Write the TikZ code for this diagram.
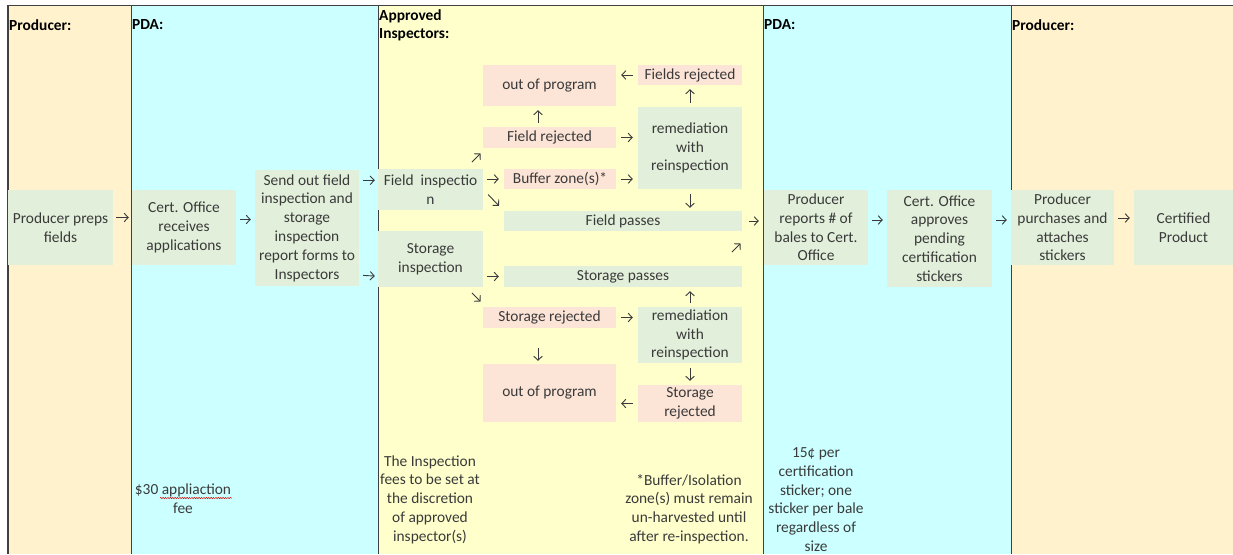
\documentclass[tikz,border=0pt]{standalone}
\usepackage{fontspec}
\setmainfont{Carlito}
\usetikzlibrary{arrows.meta,decorations.pathmorphing}

\definecolor{prodlane}{HTML}{FFF2CC}
\definecolor{pdalane}{HTML}{CCFFFF}
\definecolor{insplane}{HTML}{FFFFCC}
\definecolor{okfill}{HTML}{E2EFDA}
\definecolor{nofill}{HTML}{FCE4D6}
\definecolor{rule}{HTML}{404040}
\definecolor{ink}{HTML}{3A3A3A}

\begin{document}
\begin{tikzpicture}
[x=1pt,y=-1pt,
 every node/.style={font=\fontsize{15.4pt}{18.8pt}\selectfont,text=ink,inner sep=0pt,align=center},
 okbox/.style 2 args={fill=okfill,minimum width=#1pt,minimum height=#2pt},
 nobox/.style 2 args={fill=nofill,minimum width=#1pt,minimum height=#2pt},
 head/.style={font=\bfseries\fontsize{15.4pt}{18pt}\selectfont,text=black,anchor=west,align=left},
 link/.style={draw=ink,line width=.9pt,-{Straight Barb[length=4pt,width=8.5pt]},shorten <=4pt,shorten >=4pt}]

\useasboundingbox (0,0) rectangle (1233,554);

% lanes
\fill[prodlane] (8,5.5) rectangle (131,554);
\fill[pdalane] (131,5.5) rectangle (378,554);
\fill[insplane] (378,5.5) rectangle (763,554);
\fill[pdalane] (763,5.5) rectangle (1011,554);
\fill[prodlane] (1011,5.5) rectangle (1233,554);
\draw[rule,line width=1.4pt] (8,554) -- (8,5.5) -- (1233,5.5);
\foreach \x in {131,378,763,1011}
  \draw[rule,line width=1pt] (\x,5.5) -- (\x,554);

\node (h1) at (9,25) [head] {Producer:};
\node (h2) at (132,25) [head] {PDA:};
\node (h3) at (379,25) [head] {Approved\\Inspectors:};
\node (h4) at (764,25) [head] {PDA:};
\node (h5) at (1012,25) [head] {Producer:};

% boxes
\node (pp) at (60.5,227.5) [okbox={105}{75}] {Producer preps\\fields};
\node (cr) at (184,227.5) [okbox={104}{75}] {Cert. Office\\receives\\applications};
\node (so) at (307,228) [okbox={104}{116}] {Send out field\\inspection and\\storage\\inspection\\report forms to\\Inspectors};
\node (fi) at (430.5,189.5) [okbox={105}{41}] {Field\ \ inspectio\\n};
\node (si) at (430.5,259) [okbox={105}{56}] {Storage\\inspection};

\node (op1) at (549.5,85.5) [nobox={133}{41}] {out of program};
\node (fr1) at (690,75) [nobox={104}{20}] {Fields rejected};
\node (rm1) at (690,148) [okbox={104}{82}] {remediation\\with\\reinspection};
\node (fr) at (549.5,137.5) [nobox={133}{21}] {Field rejected};
\node (bz) at (560,179) [nobox={112}{20}] {Buffer zone(s)*};
\node (fp) at (623,221) [okbox={238}{20}] {Field passes};
\node (sp) at (623,276.5) [okbox={238}{21}] {Storage passes};
\node (sr1) at (549.5,317.5) [nobox={133}{21}] {Storage rejected};
\node (rm2) at (690,335) [okbox={104}{56}] {remediation\\with\\reinspection};
\node (op2) at (549.5,393) [nobox={133}{58}] {out of program};
\node (sr2) at (690,403.5) [nobox={104}{37}] {Storage\\rejected};

\node (pr) at (816,227.5) [okbox={104}{75}] {Producer\\reports \# of\\bales to Cert.\\Office};
\node (ca) at (939.5,238.5) [okbox={105}{97}] {Cert. Office\\approves\\pending\\certification\\stickers};
\node (pa) at (1062.5,227.5) [okbox={103}{75}] {Producer\\purchases and\\attaches\\stickers};
\node (cp) at (1183.5,227.5) [okbox={99}{75}] {Certified\\Product};

% notes
\node (fee) at (183,499) {\$30 appliaction\\fee};
\node (ifee) at (430,499.5) {The Inspection\\fees to be set at\\the discretion\\of approved\\inspector(s)};
\node (buf) at (689,509) {*Buffer/Isolation\\zone(s) must remain\\un-harvested until\\after re-inspection.};
\node (stk) at (816,499.5) {15¢ per\\certification\\sticker; one\\sticker per bale\\regardless of\\size};
\draw[red!85!black,line width=.5pt,decorate,decoration={snake,amplitude=.6pt,segment length=2.4pt}]
  ([shift={(-23,-1)}]fee.center) -- ([shift={(49,-1)}]fee.center);

% arrows
\draw[link,shorten <=3pt,shorten >=3pt] ([yshift=10pt]pp.east) -- ([yshift=10pt]pp.east -| cr.west);
\draw[link] ([yshift=8pt]cr.east) -- ([yshift=8pt]cr.east -| so.west);
\draw[link,shorten >=3pt] ([shift={(0,10.5)}]so.north east) -- ([shift={(0,11.5)}]fi.north west);
\draw[link,shorten >=3pt] ([shift={(0,-11)}]so.south east) -- ([shift={(0,-11)}]si.south west);
\draw[link,shorten >=5pt] (fi.east |- bz.west) -- (bz.west);
\draw[link,shorten <=1pt,shorten >=1pt] ([shift={(-12,-6)}]fi.north east) -- ([shift={(-2,-16)}]fi.north east);
\draw[link,shorten <=7pt,shorten >=7pt] (fi.east) -- (fp.north west);
\draw[link,shorten <=5pt,shorten >=5pt] (bz.east) -- (rm1.west |- bz.east);
\draw[link,shorten <=5pt,shorten >=5pt] (fr.east) -- (rm1.west |- fr.east);
\draw[link,shorten <=5pt,shorten >=5pt] (fr1.west) -- (op1.east |- fr1.west);
\draw[link] (rm1.north) -- (fr1.south);
\draw[link] ([xshift=-11.5pt]fr.north) -- ([xshift=-11.5pt]op1.south);
\draw[link,shorten <=5pt,shorten >=3pt] (rm1.south) -- (rm1.south |- fp.north);
\draw[link,shorten <=7pt,shorten >=5pt] (fp.east) -- (pr.west |- fp.east);
\draw[link,shorten >=5pt] (si.east |- sp.west) -- (sp.west);
\draw[link,shorten <=1pt,shorten >=1pt] ([shift={(-11,-13)}]sp.north east) -- ([shift={(-1,-23)}]sp.north east);
\draw[link,shorten <=1pt,shorten >=1pt] ([shift={(-12,5)}]si.south east) -- ([shift={(-2,15)}]si.south east);
\draw[link] (rm2.north) -- (rm2.north |- sp.south);
\draw[link,shorten <=5pt,shorten >=5pt] (sr1.east) -- (rm2.west |- sr1.east);
\draw[link,shorten <=20pt,shorten >=3pt] ([xshift=-11.5pt]sr1.south) -- ([xshift=-11.5pt]op2.north);
\draw[link,shorten <=5pt] (rm2.south) -- (sr2.north);
\draw[link,shorten <=5pt,shorten >=5pt] (sr2.west) -- (op2.east |- sr2.west);
\draw[link] ([yshift=7.5pt]pr.east) -- ([yshift=7.5pt]pr.east -| ca.west);
\draw[link] ([yshift=7.5pt]pa.west -| ca.east) -- ([yshift=7.5pt]pa.west);
\draw[link] ([yshift=9.5pt]pa.east) -- ([yshift=9.5pt]cp.west);
\end{tikzpicture}
\end{document}
